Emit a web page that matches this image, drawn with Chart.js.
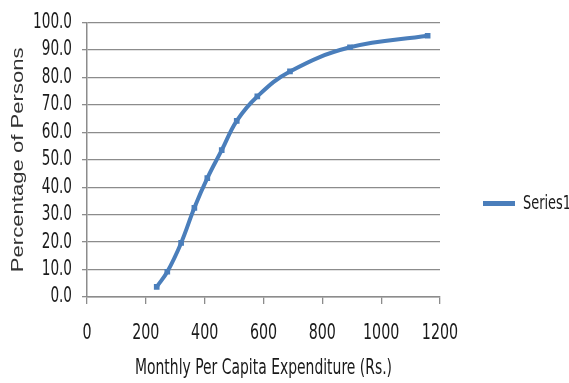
<!DOCTYPE html>
<html>
<head>
<meta charset="utf-8">
<script src="https://cdn.jsdelivr.net/npm/chart.js@4/dist/chart.umd.min.js"></script>
<style>
  html, body { margin: 0; padding: 0; background: #ffffff; }
  #wrap { width: 569px; height: 383px; }
</style>
</head>
<body>
<div id="wrap"><canvas id="c" width="569" height="383"></canvas></div>
<script>
// Monthly per capita expenditure (Rs.) and cumulative percentage of persons
const expenditure = [237, 273, 320, 365, 409, 458, 509, 579, 690, 894, 1158];
const personsPct  = [3.7, 9.2, 19.7, 32.5, 43.3, 53.5, 64.2, 73.1, 82.2, 91.0, 95.2];
const seriesName  = 'Series1';
const xTickValues = [0, 200, 400, 600, 800, 1000, 1200];
const yTickValues = [0, 10, 20, 30, 40, 50, 60, 70, 80, 90, 100];

const labelFont = "'DejaVu Sans Condensed', sans-serif";
const titleFont = "'Liberation Sans', Arial, sans-serif";
const blue = '#4A7EBB';
const grid = '#8C8C8C';
const ink  = '#1a1a1a';

// Horizontal stretch applied to text, per font family (tall narrow labels,
// long vertical axis title)
const textStretch = [['DejaVu Sans Condensed', 0.72], ['Liberation Sans', 1.3]];

const canvas = document.getElementById('c');
const ctx = canvas.getContext('2d');
const baseFillText = ctx.fillText.bind(ctx);
ctx.fillText = function (text, x, y, maxWidth) {
  const hit = textStretch.find(([family]) => this.font.includes(family));
  if (!hit) {
    return maxWidth === undefined ? baseFillText(text, x, y) : baseFillText(text, x, y, maxWidth);
  }
  this.save();
  this.translate(x, y);
  this.scale(hit[1], 1);
  baseFillText(text, 0, 0);
  this.restore();
};

// Legend sits right of the plot with a fixed width; nudge its box into place
const legendPlacement = {
  id: 'legendPlacement',
  beforeInit(chart) {
    const lg = chart.legend;
    if (!lg) return;
    const fit = lg.fit.bind(lg);
    lg.fit = function () { fit(); this.width = 129; };
  },
  afterLayout(chart) {
    const lg = chart.legend;
    if (!lg) return;
    lg.left += 35; lg.right += 35;
    lg.top += 2; lg.bottom += 2;
  }
};

new Chart(canvas, {
  type: 'scatter',
  data: {
    datasets: [{
      label: seriesName,
      data: expenditure.map((x, i) => ({ x: x, y: personsPct[i] })),
      showLine: true,
      tension: 0.4,
      borderColor: blue,
      backgroundColor: blue,
      borderWidth: 4,
      pointStyle: 'rect',
      pointRadius: 4,
      pointBorderWidth: 0,
      pointBackgroundColor: blue
    }]
  },
  options: {
    responsive: false,
    animation: false,
    layout: { padding: { top: 20, left: 0, right: 0, bottom: 0 } },
    plugins: {
      legend: {
        position: 'right',
        align: 'center',
        labels: {
          boxWidth: 28,
          boxHeight: 1,
          padding: 10,
          color: ink,
          font: { family: labelFont, size: 20 }
        }
      },
      tooltip: { enabled: false }
    },
    scales: {
      x: {
        type: 'linear',
        min: 0,
        max: 1200,
        afterBuildTicks(axis) { axis.ticks = xTickValues.map(v => ({ value: v })); },
        afterFit(axis) { axis.height = 86; },
        grid: { drawOnChartArea: false, drawTicks: true, tickLength: 7, color: grid, lineWidth: 1.3 },
        border: { color: grid, width: 1.5 },
        ticks: {
          color: ink,
          padding: 16,
          maxRotation: 0,
          autoSkip: false,
          font: { family: labelFont, size: 22 },
          callback: v => String(v)
        },
        title: {
          display: true,
          text: 'Monthly Per Capita Expenditure (Rs.)',
          color: ink,
          font: { family: labelFont, size: 21.5 },
          padding: { top: 4, bottom: 2 }
        }
      },
      y: {
        type: 'linear',
        min: 0,
        max: 100,
        afterBuildTicks(axis) { axis.ticks = yTickValues.map(v => ({ value: v })); },
        afterFit(axis) { axis.width = 87; },
        grid: { color: grid, lineWidth: 1.3, tickLength: 5 },
        border: { color: grid, width: 1.5 },
        ticks: {
          color: ink,
          padding: 10,
          autoSkip: false,
          font: { family: labelFont, size: 21 },
          callback: v => Number(v).toFixed(1)
        },
        title: {
          display: true,
          text: 'Percentage of Persons',
          color: '#333333',
          font: { family: titleFont, size: 17 },
          padding: { top: 8, bottom: 0 }
        }
      }
    }
  },
  plugins: [legendPlacement]
});
</script>
</body>
</html>
